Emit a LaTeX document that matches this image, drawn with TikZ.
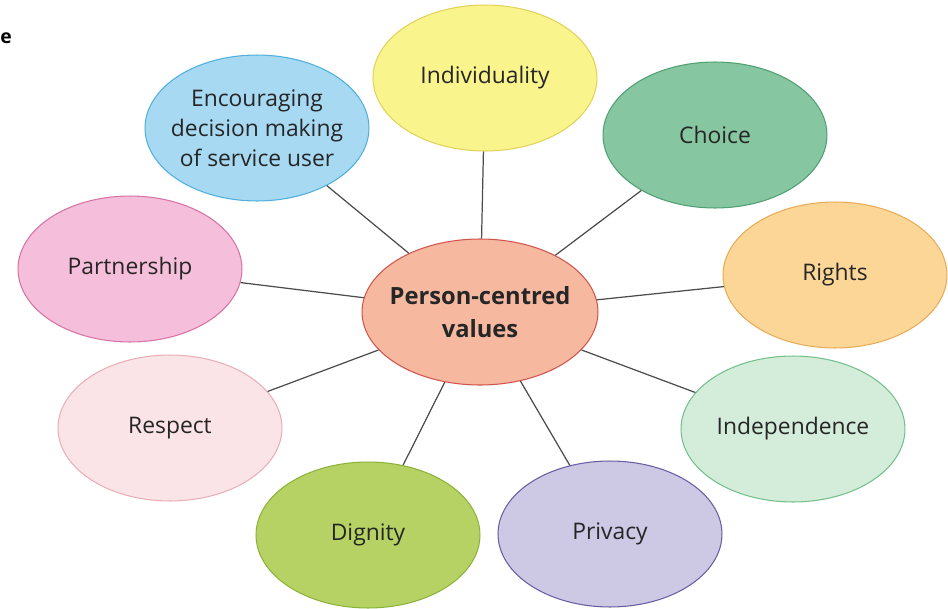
\documentclass[tikz,border=0pt]{standalone}
\usepackage{fontspec}
\setmainfont{Open Sans}
\usetikzlibrary{shapes.geometric}

\definecolor{indivfill}{RGB}{250,244,140}
\definecolor{indivline}{RGB}{225,210,90}
\definecolor{encfill}{RGB}{167,218,242}
\definecolor{encline}{RGB}{80,175,222}
\definecolor{choicefill}{RGB}{134,198,160}
\definecolor{choiceline}{RGB}{80,160,115}
\definecolor{partfill}{RGB}{245,190,218}
\definecolor{partline}{RGB}{215,115,165}
\definecolor{rightsfill}{RGB}{252,214,150}
\definecolor{rightsline}{RGB}{232,172,88}
\definecolor{centrefill}{RGB}{246,185,160}
\definecolor{centreline}{RGB}{210,85,75}
\definecolor{respfill}{RGB}{251,228,231}
\definecolor{respline}{RGB}{232,175,185}
\definecolor{indepfill}{RGB}{212,237,218}
\definecolor{indepline}{RGB}{115,192,140}
\definecolor{dignfill}{RGB}{183,210,100}
\definecolor{dignline}{RGB}{140,178,60}
\definecolor{privfill}{RGB}{205,200,228}
\definecolor{privline}{RGB}{105,95,160}

\begin{document}
\begin{tikzpicture}[x=0.02cm, y=-0.02cm,
    value/.style={ellipse, draw, line width=0.6pt, inner xsep=-0.6cm, inner ysep=0pt,
        minimum width=4.48cm, minimum height=2.92cm, align=center,
        font=\fontsize{13}{17}\selectfont, text=black!85},
    spoke/.style={line width=0.7pt, black!70}]
    \useasboundingbox (0,0) rectangle (948,609);

    % Cut-off letter at the left edge
    \node[font=\bfseries\fontsize{11}{13}\selectfont, inner sep=0pt, anchor=west] (edge) at (0,38) {e};

    % Centre value
    \node[value, fill=centrefill, draw=centreline, minimum width=4.72cm,
        font=\bfseries\fontsize{13.5}{19}\selectfont] (centre) at (480,312)
        {Person-centred\\values};

    % Surrounding values
    \node[value, fill=indivfill, draw=indivline] (indiv) at (485,78) {Individuality};
    \node[value, fill=encfill, draw=encline] (enc) at (257,128)
        {Encouraging\\decision making\\of service user};
    \node[value, fill=choicefill, draw=choiceline] (choice) at (715,135) {Choice};
    \node[value, fill=partfill, draw=partline] (part) at (130,269) {Partnership};
    \node[value, fill=rightsfill, draw=rightsline] (rights) at (835,275) {Rights};
    \node[value, fill=respfill, draw=respline] (resp) at (170,428) {Respect};
    \node[value, fill=indepfill, draw=indepline] (indep) at (793,429) {Independence};
    \node[value, fill=dignfill, draw=dignline] (dign) at (368,535) {Dignity};
    \node[value, fill=privfill, draw=privline] (priv) at (610,534) {Privacy};

    % Spokes from the centre
    \draw[spoke] (centre) -- (indiv);
    \draw[spoke] (centre) -- (enc);
    \draw[spoke] (centre) -- (choice);
    \draw[spoke] (centre) -- (part);
    \draw[spoke] (centre) -- (rights);
    \draw[spoke] (centre) -- (resp);
    \draw[spoke] (centre) -- (indep);
    \draw[spoke] (centre) -- (dign);
    \draw[spoke] (centre) -- (priv);
\end{tikzpicture}
\end{document}
